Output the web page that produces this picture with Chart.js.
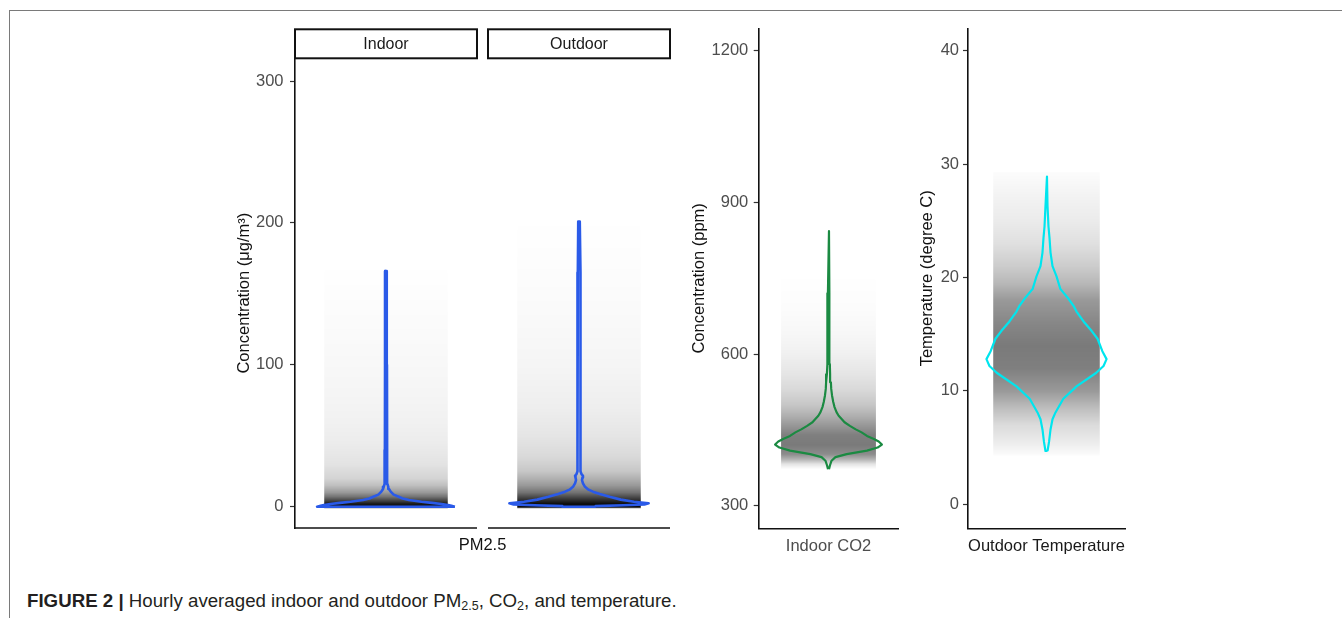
<!DOCTYPE html>
<html>
<head>
<meta charset="utf-8">
<script src="https://cdn.jsdelivr.net/npm/chart.js@4/dist/chart.umd.min.js"></script>
<style>
  html, body { margin: 0; padding: 0; background: #fff; }
  body { width: 1342px; height: 618px; position: relative; overflow: hidden;
         font-family: 'Liberation Sans', Arial, Helvetica, sans-serif; }
  .frame { position: absolute; left: 9px; top: 10px; right: -4px; bottom: -4px;
           border-top: 1.5px solid #7a7a7a; border-left: 1.5px solid #7a7a7a; }
  .panel { position: absolute; top: 0; height: 570px; }
  #pmBox { left: 200px; width: 480px; }
  #co2Box { left: 680px; width: 230px; }
  #tempBox { left: 910px; width: 230px; }
  .caption { position: absolute; left: 27px; top: 590px; font-size: 18.7px; color: #231f20;
             white-space: nowrap; }
  .caption sub { font-size: 12.5px; vertical-align: -3px; line-height: 0; }
</style>
</head>
<body>
<div class="frame"></div>
<div class="panel" id="pmBox"><canvas id="pm"></canvas></div>
<div class="panel" id="co2Box"><canvas id="co2"></canvas></div>
<div class="panel" id="tempBox"><canvas id="temp"></canvas></div>
<div class="caption"><b>FIGURE 2 |</b> Hourly averaged indoor and outdoor PM<sub>2.5</sub>, CO<sub>2</sub>, and temperature.</div>

<script>
const FONT = "'Liberation Sans', Arial, Helvetica, sans-serif";
Chart.defaults.font.family = FONT;

// ---- PM2.5 (µg/m³), faceted Indoor / Outdoor ----
const PM_FACETS = ['Indoor', 'Outdoor'];
const PM_TICKS = [0, 100, 200, 300];

const PM_INDOOR_LEVELS  = [0, 0.6, 1.2, 1.9, 2.7, 3.5, 4.7, 5.8, 6.8, 8.5, 10.6, 12.5, 14, 16, 40, 100, 166];
const PM_INDOOR_DENSITY = [0.99, 0.94, 0.89, 0.80, 0.66, 0.51, 0.33, 0.24, 0.19, 0.11, 0.067, 0.043, 0.033, 0.02, 0.016, 0.014, 0.011];

const PM_OUTDOOR_LEVELS  = [0, 0.4, 1.0, 1.6, 2.4, 3.5, 5, 7, 9, 10.6, 12, 14, 16.5, 18.8, 20.5, 21.8, 23, 25, 40, 100, 110, 120, 130, 140, 150, 158, 165, 201];
const PM_OUTDOOR_DENSITY = [0.24, 0.24, 0.64, 0.94, 1.0, 0.79, 0.6, 0.44, 0.3, 0.2, 0.136, 0.086, 0.057, 0.043, 0.05, 0.057, 0.036, 0.021, 0.019, 0.019, 0.024, 0.02, 0.024, 0.021, 0.025, 0.023, 0.017, 0.011];

// share of hourly observations (as grey shade) along the concentration axis
const PM_INDOOR_OBS_LEVELS = [-1, 0, 2, 4, 7, 10, 15, 20, 30, 45, 60, 80, 110, 140, 172];
const PM_INDOOR_OBS_SHADE  = [0.6, 0.95, 0.9, 0.75, 0.55, 0.4, 0.25, 0.17, 0.11, 0.075, 0.055, 0.04, 0.025, 0.012, 0];
const PM_OUTDOOR_OBS_LEVELS = [-1, 0, 2, 4, 7, 10, 15, 20, 25, 35, 50, 70, 100, 130, 160, 205];
const PM_OUTDOOR_OBS_SHADE  = [0.6, 0.95, 0.95, 0.85, 0.7, 0.55, 0.4, 0.3, 0.22, 0.15, 0.1, 0.065, 0.04, 0.025, 0.012, 0];

// ---- Indoor CO2 (ppm) ----
const CO2_TICKS = [300, 600, 900, 1200];
const CO2_LEVELS  = [372, 380, 389, 396, 402, 409, 415, 421, 427, 432, 438, 445, 451, 458, 465, 471, 478, 485, 495, 505, 518, 531, 544, 560, 580, 603, 650, 720, 843];
const CO2_DENSITY = [0.009, 0.028, 0.057, 0.13, 0.34, 0.72, 0.92, 1.0, 0.94, 0.85, 0.72, 0.62, 0.51, 0.4, 0.3, 0.25, 0.19, 0.15, 0.113, 0.089, 0.066, 0.051, 0.045, 0.03, 0.025, 0.023, 0.015, 0.011, 0.009];
const CO2_OBS_LEVELS = [372, 382, 392, 402, 420, 440, 460, 480, 500, 530, 560, 600, 640, 690, 760];
const CO2_OBS_SHADE  = [0, 0.1, 0.3, 0.45, 0.52, 0.5, 0.4, 0.3, 0.22, 0.15, 0.1, 0.06, 0.03, 0.012, 0];

// ---- Outdoor temperature (degree C) ----
const TEMP_TICKS = [0, 10, 20, 30, 40];
const TEMP_LEVELS  = [4.7, 5.5, 6.6, 7.5, 8.1, 9.3, 10.4, 11.6, 12.2, 12.8, 13.5, 14.6, 15.3, 16.1, 17.0, 17.5, 18.1, 19.0, 20.1, 21.0, 22.2, 23.5, 24.5, 26.3, 28.9];
const TEMP_DENSITY = [0.017, 0.042, 0.067, 0.1, 0.15, 0.28, 0.5, 0.83, 0.95, 1.0, 0.93, 0.85, 0.75, 0.62, 0.5, 0.45, 0.37, 0.23, 0.167, 0.1, 0.067, 0.05, 0.033, 0.017, 0.008];
const TEMP_OBS_LEVELS = [4.3, 5.5, 7, 8.5, 10, 12, 14, 16, 18, 19.5, 21, 23, 25, 27, 29.3];
const TEMP_OBS_SHADE  = [0.01, 0.08, 0.14, 0.26, 0.4, 0.5, 0.52, 0.47, 0.4, 0.28, 0.2, 0.12, 0.08, 0.05, 0.01];

// ---- styling ----
const VIOLIN_SPAN = 0.765;   // max half-width of a violin, in category units
const JITTER_SPAN = 0.68;    // half-width of the observation band
const FACET_GAP = 0.121;     // gap between the PM2.5 facets, in category units
const STRIP_H = 29;
const facetCenter = i => i * (2 + FACET_GAP);

function violinOutline(levels, density, center) {
  const right = levels.map((y, i) => ({ x: center + density[i] * VIOLIN_SPAN, y }));
  const left = levels.map((y, i) => ({ x: center - density[i] * VIOLIN_SPAN, y })).reverse();
  return right.concat(left, [right[0]]);
}

function violin(levels, density, center, color, width) {
  return {
    data: violinOutline(levels, density, center),
    borderColor: color, borderWidth: width, borderJoinStyle: 'round',
    fill: false, pointRadius: 0, order: 0
  };
}

function observationBand(levels, shade, center) {
  const lo = levels[0], hi = levels[levels.length - 1];
  return {
    data: [{ x: center - JITTER_SPAN, y: hi }, { x: center + JITTER_SPAN, y: hi }],
    fill: { value: lo },
    borderWidth: 0, borderColor: 'rgba(0,0,0,0)', pointRadius: 0, order: 1,
    backgroundColor(ctx) {
      const chart = ctx.chart, y = chart.scales.y;
      if (!chart.chartArea || !y) return 'rgba(0,0,0,0.1)';
      const g = chart.ctx.createLinearGradient(0, y.getPixelForValue(lo), 0, y.getPixelForValue(hi));
      levels.forEach((v, i) => g.addColorStop((v - lo) / (hi - lo), `rgba(0,0,0,${shade[i]})`));
      return g;
    }
  };
}

function yAxis({ min, max, ticks, title, titlePad, labelPad, width }) {
  return {
    type: 'linear', position: 'left', min, max,
    afterBuildTicks: s => { s.ticks = ticks.map(v => ({ value: v })); },
    afterFit: s => { s.width = width; },
    grid: { drawOnChartArea: false, drawTicks: true, tickLength: 5, tickColor: '#333', tickWidth: 1.2 },
    border: { display: true, color: '#111', width: 1.6 },
    ticks: { color: '#4d4d4d', font: { size: 16.5 }, padding: labelPad, callback: v => String(v) },
    title: { display: true, text: title, color: '#111', font: { size: 16.5 }, padding: { top: titlePad, bottom: 0 } }
  };
}

function xAxis({ min, max, title, color, height, titlePad, border }) {
  return {
    type: 'linear', position: 'bottom', min, max,
    afterFit: s => { s.height = height; },
    grid: { display: false },
    border: { display: border, color: '#111', width: 1.6 },
    ticks: { display: false },
    title: { display: true, text: title, color, font: { size: 16.5 }, padding: { top: 0, bottom: titlePad } }
  };
}

function baseOptions(padding, scales) {
  return {
    responsive: true, maintainAspectRatio: false, animation: false, events: [],
    layout: { padding },
    plugins: { legend: { display: false }, tooltip: { enabled: false } },
    elements: { point: { radius: 0 }, line: { tension: 0 } },
    scales
  };
}

// facet strips and the split x axis line under the two PM2.5 facets
const facetStrips = {
  id: 'facetStrips',
  afterDraw(chart) {
    const { ctx, chartArea: a, scales: { x } } = chart;
    ctx.save();
    PM_FACETS.forEach((name, i) => {
      const c = facetCenter(i);
      const l = x.getPixelForValue(c - 1), r = x.getPixelForValue(c + 1);
      ctx.lineWidth = 2;
      ctx.strokeStyle = '#111';
      ctx.strokeRect(l, a.top - STRIP_H, r - l, STRIP_H);
      ctx.font = `16px ${FONT}`;
      ctx.fillStyle = '#1a1a1a';
      ctx.textAlign = 'center';
      ctx.textBaseline = 'middle';
      ctx.fillText(name, (l + r) / 2, a.top - STRIP_H / 2 + 1);
      ctx.lineWidth = 1.6;
      ctx.beginPath();
      ctx.moveTo(l, a.bottom);
      ctx.lineTo(r, a.bottom);
      ctx.stroke();
    });
    ctx.restore();
  }
};

const PM_BLUE = '#2a5ae8';

new Chart(document.getElementById('pm'), {
  type: 'line',
  data: {
    datasets: [
      violin(PM_INDOOR_LEVELS, PM_INDOOR_DENSITY, facetCenter(0), PM_BLUE, 2.6),
      violin(PM_OUTDOOR_LEVELS, PM_OUTDOOR_DENSITY, facetCenter(1), PM_BLUE, 2.6),
      observationBand(PM_INDOOR_OBS_LEVELS, PM_INDOOR_OBS_SHADE, facetCenter(0)),
      observationBand(PM_OUTDOOR_OBS_LEVELS, PM_OUTDOOR_OBS_SHADE, facetCenter(1))
    ]
  },
  options: baseOptions({ left: 0, top: 58.3, right: 10, bottom: 0 }, {
    x: xAxis({ min: -1, max: facetCenter(1) + 1, title: 'PM2.5', color: '#111', height: 42, titlePad: 14.5, border: false }),
    y: yAxis({ min: -15, max: 316, ticks: PM_TICKS, title: 'Concentration (μg/m³)', titlePad: 35, labelPad: 6.5, width: 95 })
  }),
  plugins: [facetStrips]
});

new Chart(document.getElementById('co2'), {
  type: 'line',
  data: {
    datasets: [
      violin(CO2_LEVELS, CO2_DENSITY, 0, '#1b8a42', 2.2),
      observationBand(CO2_OBS_LEVELS, CO2_OBS_SHADE, 0)
    ]
  },
  options: baseOptions({ left: 0, top: 28.3, right: 11.7, bottom: 0 }, {
    x: xAxis({ min: -1, max: 1, title: 'Indoor CO2', color: '#4d4d4d', height: 41.5, titlePad: 13.5, border: true }),
    y: yAxis({ min: 254.9, max: 1244.3, ticks: CO2_TICKS, title: 'Concentration (ppm)', titlePad: 10, labelPad: 5.4, width: 78.7 })
  })
});

new Chart(document.getElementById('temp'), {
  type: 'line',
  data: {
    datasets: [
      violin(TEMP_LEVELS, TEMP_DENSITY, 0, '#00e5ee', 2.2),
      observationBand(TEMP_OBS_LEVELS, TEMP_OBS_SHADE, 0)
    ]
  },
  options: baseOptions({ left: 0, top: 28.3, right: 15, bottom: 0 }, {
    x: xAxis({ min: -1, max: 1, title: 'Outdoor Temperature', color: '#1a1a1a', height: 41.7, titlePad: 13.5, border: true }),
    y: yAxis({ min: -2.12, max: 41.98, ticks: TEMP_TICKS, title: 'Temperature (degree C)', titlePad: 7.5, labelPad: 4, width: 58 })
  })
});
</script>
</body>
</html>
